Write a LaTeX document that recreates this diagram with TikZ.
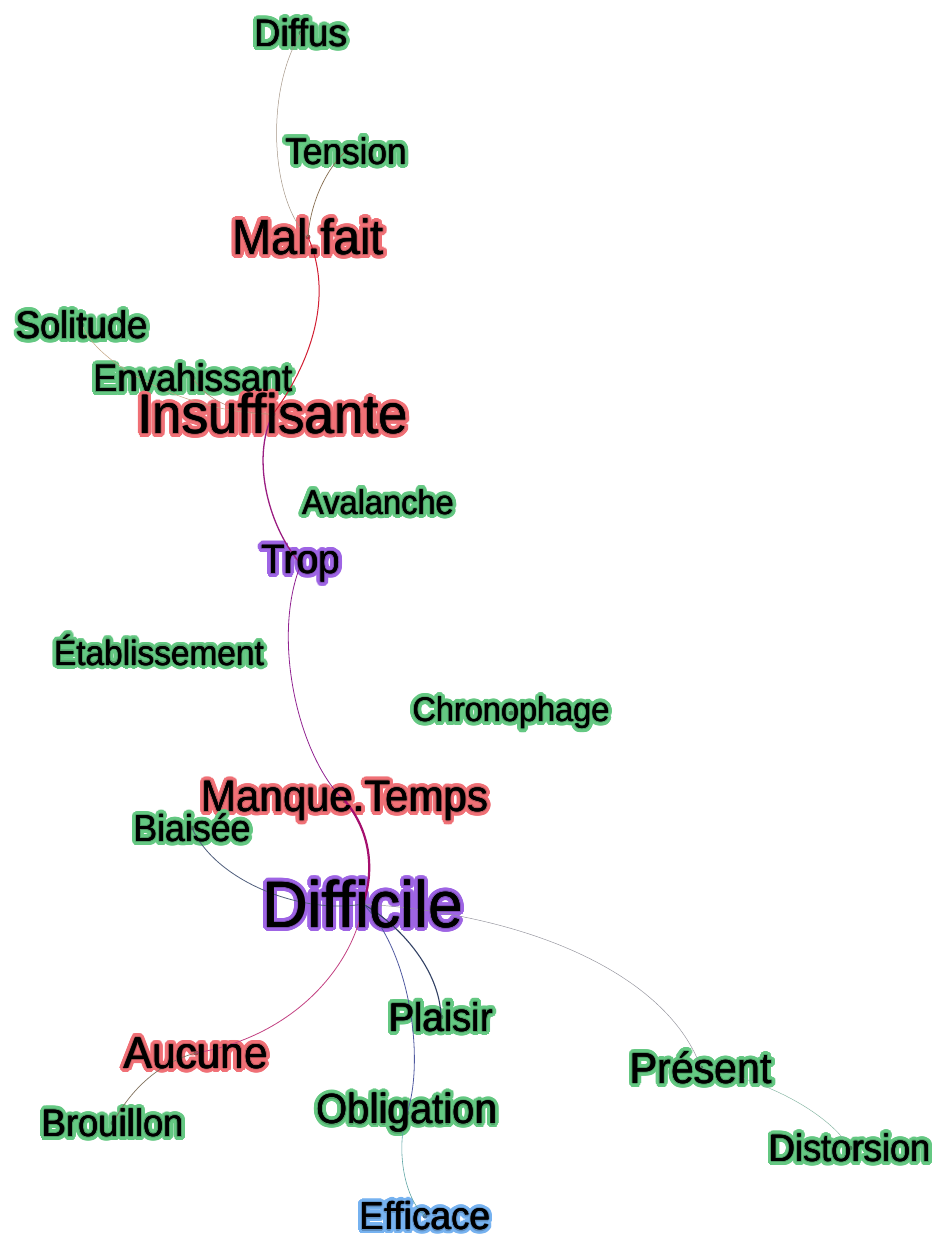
\documentclass[tikz,border=0pt]{standalone}
\usepackage{fontspec}
\setmainfont{Liberation Sans}
\usetikzlibrary{calc}
\pgfdeclarelayer{bg}
\pgfdeclarelayer{halo}
\pgfdeclarelayer{edges}
\pgfsetlayers{bg,halo,edges,main}
\definecolor{halogreen}{RGB}{100,200,130}
\definecolor{halored}{RGB}{240,112,118}
\definecolor{halopurple}{RGB}{158,100,228}
\definecolor{haloblue}{RGB}{118,178,240}
\tikzset{
  wtext/.style={inner sep=0pt, anchor=center, text=black},
  edge/.style={line width=#1, line cap=round},
  edge/.default=0.6pt
}
\newcommand\wrd[6]{%
  \foreach \a in {0,180}{%
    \node[wtext,font=\fontsize{#4}{#4}\selectfont] at ([shift={(\a:0.2pt)}]#2,#3) {\scalebox{1}[1.05]{#6}};}
  \node[wtext,font=\fontsize{#4}{#4}\selectfont] (#1) at (#2,#3) {\scalebox{1}[1.05]{#6}};
  \begin{pgfonlayer}{halo}
    \foreach \a in {0,15,...,345}{%
      \node[wtext,text=#5,font=\fontsize{#4}{#4}\selectfont] at ([shift={(\a:4pt)}]#2,#3) {\scalebox{1}[1.05]{#6}};}
    \foreach \a in {0,30,...,330}{%
      \node[wtext,text=#5,font=\fontsize{#4}{#4}\selectfont] at ([shift={(\a:2.3pt)}]#2,#3) {\scalebox{1}[1.05]{#6}};}
    \foreach \a in {0,45,...,315}{%
      \node[wtext,text=#5!80!black,font=\fontsize{#4}{#4}\selectfont] at ([shift={(\a:1.1pt)}]#2,#3) {\scalebox{1}[1.05]{#6}};}
  \end{pgfonlayer}
  \begin{pgfonlayer}{edges}
    \fill[#5!65!black] (#1.center) circle (2.4pt);
  \end{pgfonlayer}
}
\begin{document}
\begin{tikzpicture}[x=1pt,y=-1pt]
\begin{pgfonlayer}{bg}
\fill[white] (0,0) rectangle (939,1234);
\end{pgfonlayer}
\useasboundingbox (0,0) rectangle (939,1234);

\wrd{Diffus}{301}{33}{36.5}{halogreen}{Diffus}
\wrd{Tension}{346}{151}{35.2}{halogreen}{Tension}
\wrd{Malfait}{308}{237}{47}{halored}{Mal.fait}
\wrd{Solitude}{82}{325}{36.5}{halogreen}{Solitude}
\wrd{Envahissant}{193}{378}{36.5}{halogreen}{Envahissant}
\wrd{Insuffisante}{273}{414}{53}{halored}{Insuffisante}
\wrd{Avalanche}{378}{502}{32.6}{halogreen}{Avalanche}
\wrd{Trop}{301}{564}{39}{halopurple}{Trop}
\wrd{Etablissement}{159}{650}{33.4}{halogreen}{Établissement}
\wrd{Chronophage}{511}{713}{32.5}{halogreen}{Chronophage}
\wrd{Manque}{345}{801}{41.9}{halored}{Manque.Temps}
\wrd{Biaisee}{192}{828}{35.7}{halogreen}{Biaisée}
\wrd{Difficile}{363}{904}{62.5}{halopurple}{Difficile}
\wrd{Plaisir}{441}{1017}{38.2}{halogreen}{Plaisir}
\wrd{Aucune}{196}{1053}{42.5}{halored}{Aucune}
\wrd{Present}{701}{1068}{41.2}{halogreen}{Présent}
\wrd{Brouillon}{113}{1123}{36.5}{halogreen}{Brouillon}
\wrd{Obligation}{407}{1113}{40.2}{halogreen}{Obligation}
\wrd{Distorsion}{850}{1148}{36.4}{halogreen}{Distorsion}
\wrd{Efficace}{425}{1216}{37}{haloblue}{Efficace}

\begin{pgfonlayer}{edges}
\draw[edge=0.5pt, color={rgb,255:red,165;green,150;blue,135}] (Diffus.center) .. controls (265,90) and (270,200) .. (Malfait.center);
\draw[edge=0.7pt, color={rgb,255:red,135;green,110;blue,80}] (Tension.center) .. controls (325,170) and (310,205) .. (Malfait.center);
\draw[edge=1pt, color={rgb,255:red,210;green,30;blue,50}] (Malfait.center) .. controls (340,310) and (295,385) .. (Insuffisante.center);
\draw[edge=0.5pt, color={rgb,255:red,195;green,165;blue,130}] (Solitude.center) .. controls (100,370) and (200,415) .. (Insuffisante.center);
\draw[edge=0.5pt, color={rgb,255:red,180;green,130;blue,110}] (Envahissant.center) .. controls (205,400) and (240,415) .. (Insuffisante.center);
\draw[edge=1.3pt, color={rgb,255:red,155;green,30;blue,130}] (Insuffisante.center) .. controls (250,460) and (270,530) .. (Trop.center);
\draw[edge=0.8pt, color={rgb,255:red,145;green,35;blue,145}] (Trop.center) .. controls (270,640) and (300,760) .. (Manque.center);
\draw[edge=2.2pt, color={rgb,255:red,165;green,15;blue,110}] (Manque.center) .. controls (370,830) and (375,870) .. (Difficile.center);
\draw[edge=0.8pt, color={rgb,255:red,80;green,95;blue,125}] (Biaisee.center) .. controls (215,880) and (300,915) .. (Difficile.center);
\draw[edge=0.8pt, color={rgb,255:red,195;green,65;blue,130}] (Difficile.center) .. controls (355,960) and (300,1035) .. (Aucune.center);
\draw[edge=1.1pt, color={rgb,255:red,50;green,65;blue,100}] (Difficile.center) .. controls (400,925) and (440,970) .. (Plaisir.center);
\draw[edge=0.8pt, color={rgb,255:red,80;green,90;blue,160}] (Difficile.center) .. controls (410,950) and (425,1060) .. (Obligation.center);
\draw[edge=0.45pt, color={rgb,255:red,145;green,145;blue,155}] (Difficile.center) .. controls (540,915) and (670,980) .. (Present.center);
\draw[edge=0.45pt, color={rgb,255:red,130;green,180;blue,160}] (Present.center) .. controls (770,1080) and (830,1115) .. (Distorsion.center);
\draw[edge=0.6pt, color={rgb,255:red,95;green,165;blue,165}] (Obligation.center) .. controls (395,1150) and (405,1200) .. (Efficace.center);
\draw[edge=0.7pt, color={rgb,255:red,130;green,115;blue,95}] (Aucune.center) .. controls (160,1062) and (130,1090) .. (Brouillon.center);
\end{pgfonlayer}
\end{tikzpicture}
\end{document}
